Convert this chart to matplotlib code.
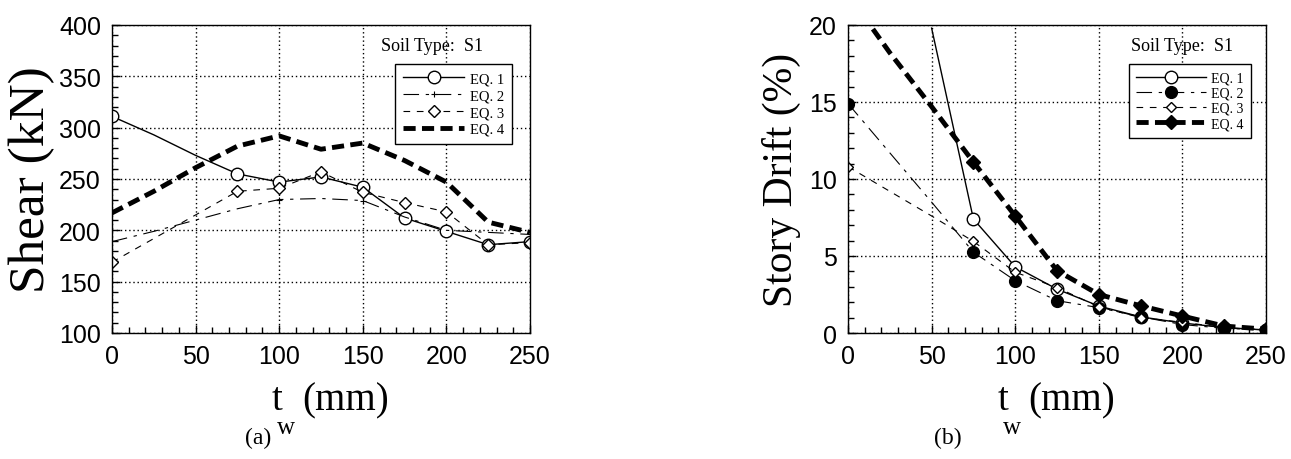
import numpy as np
import matplotlib
matplotlib.use("Agg")
import matplotlib.pyplot as plt
from matplotlib.ticker import MultipleLocator

# epaisseur de voile t_w (mm)
tw = [0, 25, 50, 75, 100, 125, 150, 175, 200, 225, 250]

# (a) effort tranchant (kN)
shear_eq1 = [311, 293, 273, 255, 247, 252, 242, 212, 199, 186, 189]
shear_eq2 = [189, 199, 210, 221, 230, 231, 229, 213, 200, 198, 196]
shear_eq3 = [169, 192, 215, 238, 241, 257, 237, 227, 218, 186, 188]
shear_eq4 = [217, 238, 261, 282, 292, 279, 285, 268, 247, 208, 198]

# (b) deplacement relatif d'etage (%)
drift_eq1 = [np.nan, np.nan, 19.8, 7.4, 4.3, 2.85, 1.75, 1.05, 0.65, 0.35, 0.2]
drift_eq2 = [14.9, 11.7, 8.5, 5.25, 3.4, 2.1, 1.65, 1.05, 0.55, 0.3, 0.2]
drift_eq3 = [10.8, 9.2, 7.6, 5.95, 3.95, 2.95, 1.7, 1.0, 0.7, 0.35, 0.2]
drift_eq4 = [22, 18.2, 14.7, 11.1, 7.6, 4.05, 2.5, 1.77, 1.1, 0.45, 0.25]

labels = ['EQ. 1', 'EQ. 2', 'EQ. 3', 'EQ. 4']
pts = [0, 3, 4, 5, 6, 7, 8, 9, 10]  # indices avec marqueurs

serif = 'Liberation Serif'
sans = 'Liberation Sans'
W, H = 1291, 460

fig = plt.figure(figsize=(12.91, 4.6), dpi=100)
ax1 = fig.add_axes([112/W, 1-334/H, 418/W, 308/H])
ax2 = fig.add_axes([848/W, 1-334/H, 418/W, 308/H])


def style_axes(ax):
    ax.grid(True, which='major', color='black', linestyle=(0, (1, 2)), linewidth=1.0)
    ax.tick_params(which='both', direction='in', top=False, right=False,
                   width=1, labelsize=18, pad=8)
    ax.tick_params(which='major', length=6)
    ax.tick_params(which='minor', length=4)
    for lab in ax.get_xticklabels() + ax.get_yticklabels():
        lab.set_fontfamily(sans)
    for s in ax.spines.values():
        s.set_linewidth(1.0)
    ax.set_xlim(0, 250)
    ax.xaxis.set_major_locator(MultipleLocator(50))
    ax.xaxis.set_minor_locator(MultipleLocator(10))


def xlabel_tw(xt, xmm):
    # t, indice w et (mm) places a la main comme sur la figure
    fig.text(xt/W, 1-410/H, 't', ha='center', va='baseline', fontsize=28, family=serif)
    fig.text((xt+9)/W, 1-428/H, 'w', ha='center', va='center', fontsize=18, family=serif)
    fig.text(xmm/W, 1-410/H, '(mm)', ha='left', va='baseline', fontsize=28, family=serif)


# ---- (a) Shear ----
l1, = ax1.plot(tw, shear_eq1, '-', color='black', lw=1.0, marker='o', ms=9,
               mfc='white', mec='black', mew=1.0, markevery=pts)
l2, = ax1.plot(tw, shear_eq2, color='black', lw=0.8, dashes=(14, 6, 3, 6),
               marker='+', ms=5, mew=0.8, markevery=[4, 6])
l3, = ax1.plot(tw, shear_eq3, color='black', lw=0.8, dashes=(6, 6),
               marker='D', ms=6, mfc='white', mec='black', mew=1.0, markevery=pts)
l4, = ax1.plot(tw, shear_eq4, color='black', lw=3.5, dashes=(2.5, 1.3))
ax1.set_ylim(100, 400)
ax1.yaxis.set_major_locator(MultipleLocator(50))
ax1.yaxis.set_minor_locator(MultipleLocator(10))
style_axes(ax1)
ax1.set_ylabel('Shear (kN)', fontsize=37, family=serif, labelpad=3)
ax1.text(0.765, 0.935, 'Soil Type:  S1', transform=ax1.transAxes, ha='center', va='center',
         fontsize=13, family=serif)
leg1 = ax1.legend([l1, l2, l3, l4], labels, loc='upper right', bbox_to_anchor=(0.958, 0.873),
                  prop={'family': serif, 'size': 10.5}, frameon=True, fancybox=False,
                  edgecolor='black', framealpha=1, handlelength=4.2, labelspacing=0.25,
                  handletextpad=0.4, borderpad=0.55, borderaxespad=0)
leg1.get_frame().set_linewidth(1.0)
xlabel_tw(277, 302)

# ---- (b) Story drift ----
m1, = ax2.plot(tw, drift_eq1, '-', color='black', lw=1.0, marker='o', ms=9,
               mfc='white', mec='black', mew=1.0, markevery=pts[1:])
m2, = ax2.plot(tw, drift_eq2, color='black', lw=0.8, dashes=(14, 6, 3, 6),
               marker='o', ms=8.5, mfc='black', mec='black', markevery=pts)
m3, = ax2.plot(tw, drift_eq3, color='black', lw=0.8, dashes=(6, 6),
               marker='D', ms=5.5, mfc='white', mec='black', mew=1.0, markevery=pts)
m4, = ax2.plot(tw, drift_eq4, color='black', lw=3.5, dashes=(2.5, 1.3),
               marker='D', ms=7, mfc='black', mec='black', markevery=pts[1:])
ax2.set_ylim(0, 20)
ax2.yaxis.set_major_locator(MultipleLocator(5))
ax2.yaxis.set_minor_locator(MultipleLocator(1))
style_axes(ax2)
ax2.set_ylabel('Story Drift (%)', fontsize=30, family=serif, labelpad=6)
ax2.text(0.80, 0.935, 'Soil Type:  S1', transform=ax2.transAxes, ha='center', va='center',
         fontsize=13, family=serif)
leg2 = ax2.legend([m1, m2, m3, m4], labels, loc='upper right', bbox_to_anchor=(0.965, 0.873),
                  prop={'family': serif, 'size': 10}, frameon=True, fancybox=False,
                  edgecolor='black', framealpha=1, handlelength=5.0, labelspacing=0.15,
                  handletextpad=0.4, borderpad=0.55, borderaxespad=0)
leg2.get_frame().set_linewidth(1.0)
xlabel_tw(1003, 1028)

fig.text(258/W, 1-438/H, '(a)', ha='center', va='center', fontsize=17, family=serif)
fig.text(948/W, 1-438/H, '(b)', ha='center', va='center', fontsize=17, family=serif)

fig.savefig('out.png', dpi=100)
